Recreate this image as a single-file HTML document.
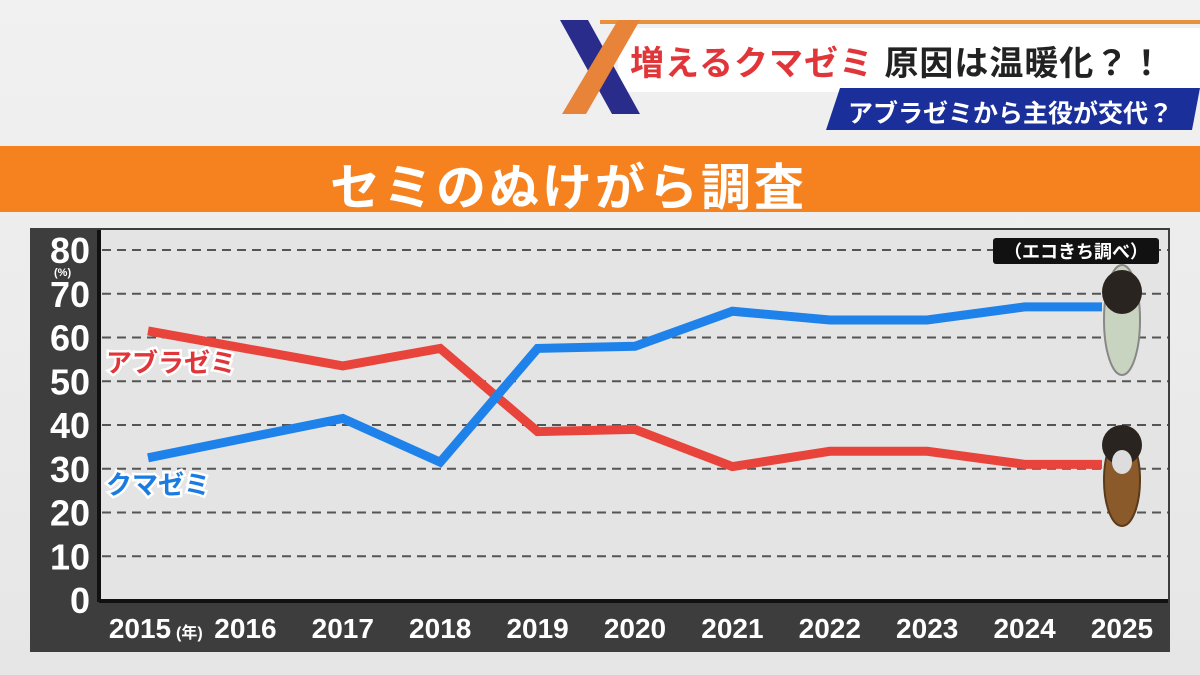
<!DOCTYPE html>
<html><head><meta charset="utf-8">
<style>
body{margin:0;width:1200px;height:675px;overflow:hidden;background:#ebebeb;font-family:"Liberation Sans","Noto Sans CJK JP",sans-serif;}
.abs{position:absolute;}
</style></head>
<body>
<div class="abs" style="left:0;top:0;width:1200px;height:675px;background:linear-gradient(#f1f1f1,#e6e6e6);"></div>
<svg class="abs" style="left:0;top:0" width="1200" height="675">
  <rect x="600" y="20" width="600" height="4" fill="#e8903a"/>
  <rect x="618" y="28" width="582" height="64" fill="#fff"/>
  <polygon points="840,88 1200,88 1192,130 826,130" fill="#1b2f9a"/>
  <polygon points="560,20 588,20 640,114 612,114" fill="#2a2c8c"/>
  <polygon points="618,20 640,20 586,114 562,114" fill="#e8843a"/>
  <rect x="0" y="146" width="1200" height="66" fill="#f5821f"/>
</svg>
<div class="abs" style="left:630px;top:36px;font-size:34px;font-weight:bold;white-space:nowrap;letter-spacing:1px"><span style="color:#e0363a">増えるクマゼミ</span> <span style="color:#222">原因は温暖化？！</span></div>
<div class="abs" style="left:848px;top:94px;font-size:25px;font-weight:bold;color:#fff;white-space:nowrap">アブラゼミから主役が交代？</div>
<div class="abs" style="left:330px;top:148px;font-size:50px;font-weight:bold;color:#fff;white-space:nowrap;letter-spacing:3px">セミのぬけがら調査</div>

<svg class="abs" style="left:0;top:0" width="1200" height="675" id="chart">
  <rect x="30" y="228" width="1140" height="424" fill="#3d3d3d"/>
  <rect x="99" y="230" width="1069" height="370" fill="#e4e4e4"/>
  <line x1="99" y1="230" x2="99" y2="602" stroke="#111" stroke-width="4"/>
  <line x1="99" y1="601" x2="1168" y2="601" stroke="#111" stroke-width="4"/>
  <g id="grid"></g><g id="yt"></g><g id="xt"></g><g id="lines"></g>
  <text x="54" y="276" font-size="11" fill="#fff" font-weight="bold">(%)</text>
  <rect x="993" y="238" width="166" height="26" rx="3" fill="#111"/>
  <text x="1076" y="258" font-size="18" fill="#fff" font-weight="bold" text-anchor="middle">（エコきち調べ）</text>
  <g>
    <ellipse cx="1122" cy="320" rx="18" ry="55" fill="#c9d4c0" stroke="#888" stroke-width="2"/>
    <ellipse cx="1122" cy="292" rx="20" ry="22" fill="#2a2420"/>
  </g>
  <g>
    <ellipse cx="1122" cy="480" rx="18" ry="46" fill="#8a5a2a" stroke="#5a3a1a" stroke-width="2"/>
    <ellipse cx="1122" cy="445" rx="20" ry="20" fill="#2a2420"/>
    <ellipse cx="1122" cy="462" rx="10" ry="12" fill="#ddd"/>
  </g>
  <text x="106" y="372" font-size="26" font-weight="bold" fill="#e0363a" stroke="#fff" stroke-width="5" paint-order="stroke">アブラゼミ</text>
  <text x="106" y="494" font-size="26" font-weight="bold" fill="#1a7ce0" stroke="#fff" stroke-width="5" paint-order="stroke">クマゼミ</text>
</svg>
<script>
const years=["2015","2016","2017","2018","2019","2020","2021","2022","2023","2024","2025"];
const aburazemi=[61.5,57.5,53.5,57.5,38.5,39,30.5,34,34,31,31];
const kumazemi=[32.5,37,41.5,31.5,57.5,58,66,64,64,67,67];
const yTicks=[0,10,20,30,40,50,60,70,80];
const NS="http://www.w3.org/2000/svg";
const y=v=>600-v*4.375;
const x=i=>148+i*97.4;
function mk(t,a,p){const e=document.createElementNS(NS,t);for(const k in a)e.setAttribute(k,a[k]);document.getElementById(p).appendChild(e);return e;}
yTicks.forEach(v=>{
  if(v>0){const g=mk('line',{x1:102,x2:1168,y1:y(v),y2:y(v),stroke:'#555','stroke-width':2,'stroke-dasharray':'9 6'},'grid');
  
  }
  const t=mk('text',{x:90,y:y(v)+13,'font-size':36,'font-weight':'bold',fill:'#fff','text-anchor':'end'},'yt');
  t.textContent=v;
  
  
});
years.forEach((yr,i)=>{
  const t=mk('text',{x:i==0?140:x(i),y:638,'font-size':28,'font-weight':'bold',fill:'#fff','text-anchor':'middle'},'xt');
  t.textContent=yr;
  
  
});
const nen=mk('text',{x:176,y:638,'font-size':16,'font-weight':'bold',fill:'#fff'},'xt');
nen.textContent='(年)';


function series(vals,color,name){
  const n=vals.length;
  const pts=vals.map((v,i)=>(i==n-1?1102:x(i))+','+y(v)).join(' ');
  const p=mk('polyline',{points:pts,fill:'none',stroke:color,'stroke-width':9,'stroke-linejoin':'miter'},'lines');
  
  
}
series(aburazemi,'#e8443c','aburazemi-line');
series(kumazemi,'#1e82ea','kumazemi-line');
</script>
</body></html>
